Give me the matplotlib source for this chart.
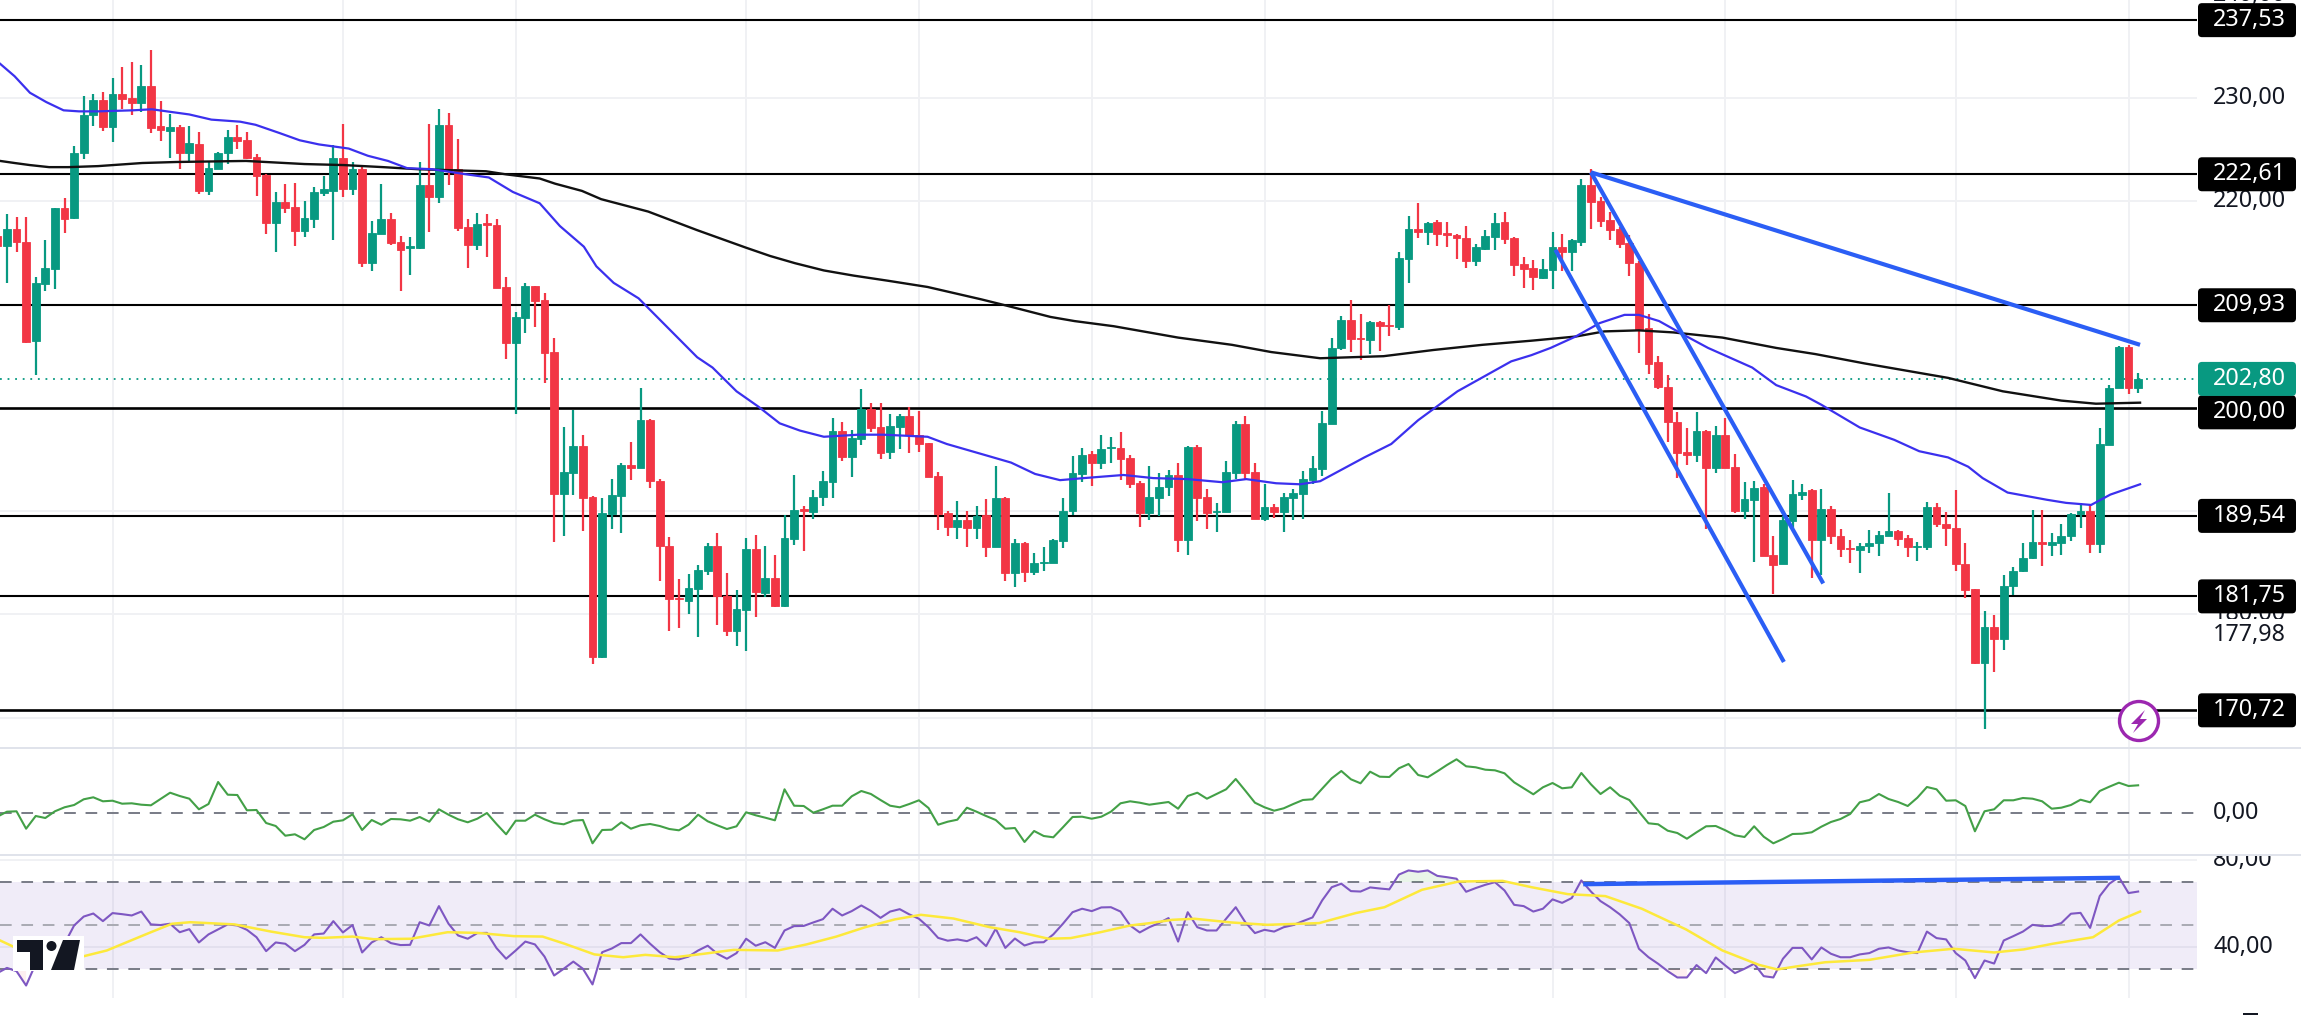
import numpy as np
import matplotlib
matplotlib.use("Agg")
import matplotlib.pyplot as plt
from matplotlib.patches import Rectangle, Polygon, Circle, FancyBboxPatch

plt.rcParams["font.family"] = ["Noto Sans", "DejaVu Sans"]

# candles (r = falling, g = rising)
directions = ("rgrrgggrgg" "grgrrgrrgr" "grgggrrrrg" "rrggggrgrg" "grrggrgrrr" "grrrggrrrg"
              "grrgggrgrr" "rrgggrrggr" "grggrgggrg" "grrggrrrrr" "grgrgrgrgg" "ggggrggrrr"
              "gggrgrrggg" "rrgrgggggg" "grrgrrggrg" "rrrrgggrrr" "rggrggrrrr" "rrrrrrrgrg"
              "rrggrrgggr" "grrrggggrr" "ggrrrrrgrg" "gggrggggrg" "ggrg")

highs = [217.5, 218.8, 218.5, 218.5, 212.7, 216.2, 219.3, 220.3, 225.3, 230.2,
         230.4, 230.6, 231.9, 233.0, 233.5, 233.2, 234.6, 229.7, 228.4, 227.4,
         227.3, 226.7, 223.8, 224.8, 226.9, 227.4, 226.7, 224.6, 222.6, 220.9,
         221.7, 221.8, 220.0, 221.4, 222.4, 225.4, 227.5, 223.8, 223.4, 218.1,
         221.7, 218.9, 216.6, 216.5, 223.8, 227.5, 228.9, 228.5, 226.0, 218.3,
         218.9, 218.8, 218.3, 212.7, 209.3, 212.1, 211.8, 211.1, 206.8, 198.1,
         199.8, 197.4, 191.5, 191.3, 193.1, 194.7, 196.7, 201.9, 198.9, 193.1,
         187.5, 183.4, 183.9, 184.8, 186.9, 187.9, 184.0, 182.4, 187.4, 187.7,
         186.6, 185.8, 189.6, 193.5, 190.5, 192.0, 193.9, 199.0, 198.6, 197.9,
         201.8, 200.5, 200.5, 199.4, 199.4, 200.1, 199.7, 196.6, 193.8, 190.0,
         191.0, 190.0, 190.5, 191.2, 194.4, 191.4, 187.3, 187.0, 185.9, 186.5,
         187.3, 191.3, 195.3, 196.1, 195.8, 197.4, 197.2, 197.7, 195.4, 192.9,
         194.4, 193.7, 194.0, 194.7, 196.3, 196.4, 192.1, 190.8, 194.9, 198.7,
         199.2, 194.7, 192.6, 190.7, 191.8, 192.1, 193.9, 195.3, 199.7, 206.8,
         208.9, 210.4, 209.1, 208.4, 208.4, 210.0, 215.1, 218.6, 219.8, 218.0,
         218.2, 218.0, 216.8, 217.6, 215.9, 217.2, 218.9, 219.0, 216.5, 214.6,
         214.3, 214.4, 217.0, 216.8, 216.3, 222.2, 223.1, 220.4, 219.0, 217.5,
         216.7, 214.2, 209.1, 205.0, 203.2, 199.6, 198.0, 199.6, 197.9, 198.2,
         199.0, 195.5, 192.8, 192.9, 192.6, 187.6, 189.5, 193.0, 192.6, 192.1,
         192.1, 190.5, 188.3, 187.2, 186.9, 188.2, 188.1, 191.8, 188.2, 187.7,
         187.0, 190.9, 190.8, 189.9, 192.0, 186.9, 182.5, 180.3, 179.9, 183.8,
         184.6, 186.9, 190.1, 190.1, 187.9, 188.8, 189.8, 190.8, 190.7, 198.0,
         202.2, 206.0, 206.1, 203.4]

body_tops = [216.6, 217.3, 217.3, 216.1, 212.1, 213.5, 219.3, 219.3, 224.7, 228.3,
             229.8, 229.8, 230.4, 230.4, 230.0, 231.2, 231.2, 227.3, 227.2, 227.2,
             225.6, 225.5, 223.2, 224.7, 226.2, 226.2, 225.9, 224.3, 222.5, 219.9,
             219.9, 219.4, 218.4, 220.9, 221.2, 224.2, 224.2, 223.1, 223.1, 216.9,
             218.3, 218.3, 216.1, 215.7, 221.6, 221.6, 227.4, 227.4, 223.1, 217.5,
             217.8, 217.9, 217.7, 211.7, 208.8, 211.8, 211.8, 210.4, 205.4, 193.8,
             196.3, 196.3, 191.4, 189.8, 191.6, 194.5, 194.5, 198.8, 198.8, 192.9,
             186.6, 181.6, 182.6, 184.3, 186.6, 186.6, 181.8, 180.5, 186.3, 186.3,
             183.5, 183.5, 187.4, 190.1, 190.2, 191.4, 192.9, 197.8, 197.8, 197.1,
             199.9, 199.9, 198.1, 198.2, 199.2, 199.2, 197.4, 196.6, 193.4, 189.8,
             189.1, 189.1, 189.5, 189.6, 191.3, 191.3, 186.9, 186.9, 185.0, 185.1,
             187.2, 190.0, 193.7, 195.4, 195.5, 196.0, 196.2, 196.1, 195.1, 192.7,
             191.4, 192.3, 193.5, 193.5, 196.2, 196.2, 191.4, 190.0, 193.8, 198.4,
             198.4, 193.8, 190.4, 190.4, 191.4, 191.8, 193.1, 194.2, 198.5, 205.8,
             208.5, 208.5, 206.8, 208.3, 208.3, 208.0, 214.5, 217.3, 217.3, 217.9,
             218.0, 216.9, 216.7, 216.4, 215.6, 216.6, 217.9, 218.0, 216.4, 213.9,
             213.5, 213.4, 215.6, 215.6, 216.2, 221.6, 221.6, 220.0, 218.2, 217.3,
             216.0, 214.0, 207.7, 204.4, 202.0, 198.6, 195.7, 197.8, 197.8, 197.4,
             197.4, 194.3, 191.2, 192.2, 192.3, 185.8, 189.1, 191.7, 191.9, 192.0,
             190.2, 190.2, 187.6, 186.4, 186.6, 186.9, 187.7, 188.1, 188.1, 187.4,
             186.6, 190.4, 190.4, 188.8, 188.4, 184.9, 182.5, 178.8, 178.8, 182.8,
             184.2, 185.5, 187.0, 187.0, 187.0, 187.6, 189.7, 190.0, 190.0, 196.5,
             201.9, 205.9, 205.9, 202.8]

body_bottoms = [215.7, 215.7, 216.1, 206.4, 206.5, 212.0, 213.4, 218.3, 218.4, 224.7,
                228.3, 227.2, 227.2, 229.9, 229.5, 229.5, 227.1, 226.9, 226.8, 224.7,
                224.7, 221.0, 221.0, 223.1, 224.7, 225.8, 224.2, 222.4, 217.9, 217.9,
                219.3, 217.1, 217.1, 218.3, 220.8, 221.0, 221.2, 221.2, 214.0, 214.0,
                216.8, 216.0, 215.3, 215.5, 215.5, 220.4, 220.4, 223.1, 217.4, 215.8,
                215.8, 217.7, 211.6, 206.3, 206.3, 208.7, 210.3, 205.3, 191.7, 191.7,
                193.7, 191.3, 175.9, 175.9, 189.7, 191.5, 194.2, 194.2, 192.9, 186.6,
                181.5, 181.5, 181.3, 182.5, 184.2, 181.8, 178.4, 178.4, 180.4, 182.2,
                182.1, 180.8, 180.8, 187.3, 190.0, 189.9, 191.4, 192.8, 195.2, 195.2,
                197.0, 198.0, 195.6, 195.7, 198.1, 197.4, 196.5, 193.3, 189.7, 188.5,
                188.5, 188.4, 188.4, 186.5, 186.5, 184.0, 184.0, 184.1, 184.1, 185.0,
                185.0, 187.1, 190.0, 193.6, 194.7, 194.7, 196.1, 195.0, 192.6, 189.8,
                189.8, 191.3, 192.3, 187.2, 187.2, 191.3, 189.8, 189.9, 189.9, 193.7,
                193.7, 189.2, 189.2, 189.9, 189.9, 191.3, 191.7, 193.0, 194.1, 198.4,
                205.8, 206.7, 206.7, 206.6, 207.9, 207.9, 207.8, 214.4, 217.0, 217.0,
                216.8, 216.7, 216.4, 214.2, 214.2, 215.4, 216.5, 216.3, 213.8, 213.4,
                212.7, 212.6, 213.3, 215.1, 215.1, 216.1, 219.9, 218.1, 217.2, 215.9,
                214.0, 207.6, 204.2, 202.0, 198.6, 195.6, 195.4, 195.4, 194.2, 194.2,
                194.2, 190.0, 190.0, 191.1, 185.7, 184.8, 184.9, 189.0, 191.6, 187.2,
                187.2, 187.6, 186.3, 186.3, 186.2, 186.6, 186.9, 187.6, 187.3, 186.5,
                186.5, 186.5, 188.8, 188.4, 184.9, 182.4, 175.3, 175.3, 177.6, 177.6,
                182.8, 184.2, 185.5, 186.8, 186.7, 186.9, 187.6, 189.7, 186.8, 186.8,
                196.4, 201.9, 201.9, 201.9]

lows = [215.4, 212.1, 215.1, 206.3, 203.2, 211.3, 211.5, 216.9, 218.3, 224.1,
        227.3, 226.8, 225.7, 228.9, 228.3, 228.6, 226.6, 225.8, 224.2, 223.1,
        223.9, 220.7, 220.6, 223.1, 223.6, 225.1, 224.1, 220.5, 216.8, 215.1,
        218.9, 215.7, 216.5, 217.4, 220.5, 216.2, 220.4, 220.6, 213.6, 213.2,
        216.8, 215.8, 211.3, 212.9, 215.4, 217.0, 219.8, 221.6, 217.1, 213.5,
        215.3, 214.6, 211.6, 204.7, 199.4, 207.2, 207.8, 202.4, 187.0, 187.6,
        191.6, 188.1, 175.2, 175.8, 188.3, 187.9, 193.0, 194.2, 192.2, 183.2,
        178.4, 178.7, 180.0, 177.8, 183.8, 179.0, 177.9, 176.9, 176.5, 179.8,
        181.7, 180.7, 180.7, 186.7, 186.1, 189.2, 190.5, 191.3, 194.9, 193.3,
        196.4, 197.7, 195.0, 195.0, 196.0, 195.6, 195.7, 193.3, 188.2, 187.6,
        187.3, 186.5, 187.3, 185.6, 186.5, 183.2, 182.7, 183.1, 183.8, 184.2,
        185.0, 186.4, 189.6, 192.8, 192.4, 194.1, 194.7, 193.0, 192.2, 188.5,
        189.1, 189.5, 191.5, 186.0, 185.8, 189.0, 188.3, 188.0, 189.9, 193.1,
        193.1, 189.2, 189.0, 189.3, 188.0, 189.1, 189.2, 192.6, 193.4, 198.4,
        205.6, 205.4, 204.6, 205.2, 205.5, 207.0, 207.5, 212.1, 216.4, 215.8,
        215.7, 215.6, 214.4, 213.5, 213.7, 215.3, 215.3, 215.9, 212.8, 211.6,
        211.4, 212.5, 211.5, 213.2, 213.2, 215.7, 217.3, 217.5, 216.2, 215.5,
        212.8, 205.3, 203.3, 201.8, 196.7, 193.2, 194.5, 194.8, 188.3, 193.7,
        194.2, 189.8, 189.2, 185.1, 185.7, 182.0, 184.9, 188.4, 191.1, 183.5,
        183.8, 186.8, 185.6, 185.0, 184.0, 185.9, 185.7, 187.6, 186.6, 185.6,
        185.2, 186.2, 188.5, 186.6, 184.2, 181.6, 175.2, 168.9, 174.4, 176.6,
        181.9, 184.1, 185.4, 184.7, 185.7, 185.8, 187.1, 188.4, 185.9, 185.9,
        196.4, 201.9, 201.3, 201.4]

# moving averages, (candle number, price)
ma_short_x = [0.3, 1.8, 3.4, 5.1, 6.9, 8.5, 10.5, 14.1, 16.1, 20.0, 22.3, 25.3, 26.9, 29.4, 31.5,
              33.5, 36.6, 38.6, 40.7, 42.7, 45.3, 48.9, 51.2, 53.7, 56.5, 58.6, 61.1, 62.4, 64.2,
              66.8, 72.9, 74.5, 77.0, 79.3, 81.5, 83.6, 86.1, 89.7, 92.3, 96.9, 98.9, 103.0, 105.6,
              108.1, 110.7, 113.2, 117.3, 120.4, 124.0, 127.6, 130.1, 133.2, 135.7, 137.8, 142.4,
              145.2, 148.0, 152.1, 157.7, 159.8, 161.8, 164.4, 166.9, 169.5, 171.0, 173.1, 175.6,
              178.2, 182.8, 185.3, 188.4, 190.0, 194.0, 197.6, 200.2, 203.2, 205.3, 206.8, 209.4,
              213.5, 215.5, 218.1, 220.1, 223.2]
ma_short = [233.3, 232.1, 230.5, 229.6, 228.8, 228.7, 228.7, 228.8, 228.9, 228.4, 227.9, 227.7, 227.4,
            226.6, 225.9, 225.5, 225.1, 224.4, 223.9, 223.2, 223.1, 222.6, 222.3, 220.9, 219.8, 217.6,
            215.6, 213.7, 212.1, 210.6, 204.9, 203.9, 201.6, 200.1, 198.5, 197.8, 197.2, 197.4, 197.4,
            197.2, 196.5, 195.4, 194.7, 193.6, 193.0, 193.2, 193.5, 193.2, 193.1, 192.8, 193.1, 192.7,
            192.6, 192.9, 195.2, 196.5, 198.8, 201.6, 204.5, 205.1, 205.8, 206.9, 208.2, 209.0, 209.0,
            208.4, 207.1, 205.8, 203.9, 202.2, 201.1, 200.3, 198.1, 196.9, 195.8, 195.2, 194.3, 193.2,
            191.8, 191.1, 190.8, 190.6, 191.6, 192.6]

ma_long_x = [0.3, 1.8, 3.4, 5.4, 7.4, 10.5, 15.1, 18.7, 25.9, 32.0, 36.1, 40.2, 43.8, 50.9, 53.0, 56.5,
             58.1, 60.9, 62.9, 67.8, 72.9, 78.0, 80.5, 83.1, 86.1, 89.2, 92.8, 96.9, 102.5, 105.1, 109.7,
             112.2, 116.3, 123.0, 128.6, 132.7, 137.8, 144.4, 149.6, 154.7, 159.8, 164.4, 167.4, 171.0,
             174.6, 179.7, 185.3, 189.4, 194.5, 203.2, 208.9, 215.0, 218.6, 223.2]
ma_long = [223.9, 223.7, 223.5, 223.3, 223.3, 223.4, 223.7, 223.8, 223.9, 223.6, 223.5, 223.3, 223.1,
           222.9, 222.6, 222.2, 221.7, 221.0, 220.2, 219.0, 217.2, 215.5, 214.7, 214.0, 213.3, 212.8,
           212.3, 211.7, 210.5, 209.9, 208.8, 208.4, 207.9, 206.8, 206.1, 205.4, 204.8, 205.0, 205.6,
           206.1, 206.5, 206.9, 207.4, 207.5, 207.3, 206.8, 205.8, 205.2, 204.3, 202.9, 201.6, 200.7,
           200.4, 200.5]

levels = [237.53, 222.61, 209.93, 200.00, 189.54, 181.75, 170.72]
last_price = 202.80
price_grid = [240, 230, 220, 210, 190, 180, 170]
price_ticks = [240, 230, 220, 180]
price_extra_tick = 177.98
grid_candles = [12, 36, 54, 78, 96, 114, 132, 162, 180, 204, 222]

# trendlines on the price pane, (candle, price) pairs
trend_a = ([166.0, 223.2], [222.8, 206.1])
trend_b = ([166.0, 190.2], [222.8, 183.0])
trend_c = ([162.3, 186.1], [215.3, 175.4])

# momentum pane (green line), one value per candle
momentum = [-3.7, 1.3, 1.7, -15.7, -3.0, -5.0, 1.7, 5.7, 8.0, 13.7,
            15.7, 11.7, 12.3, 9.3, 9.7, 8.3, 7.7, 14.0, 20.3, 17.0,
            14.3, 3.7, 9.0, 31.0, 18.3, 18.0, 2.7, 3.0, -10.0, -13.0,
            -22.7, -21.3, -26.3, -17.0, -14.0, -8.7, -7.3, -1.3, -17.0, -7.0,
            -11.7, -6.0, -6.3, -7.7, -4.0, -8.7, 3.7, -1.7, -6.3, -9.3,
            -5.7, 0.0, -11.0, -21.3, -7.7, -7.7, -1.7, -6.3, -10.0, -11.3,
            -7.7, -7.0, -30.3, -17.0, -16.7, -9.3, -15.7, -12.3, -11.0, -13.0,
            -16.0, -17.3, -11.7, -1.7, -8.3, -12.3, -16.0, -13.3, 0.7, -2.3,
            -4.7, -7.3, 23.7, 7.3, 7.0, 0.3, 3.7, 7.3, 7.3, 16.7,
            22.0, 19.0, 13.0, 7.3, 5.7, 9.0, 12.7, 5.0, -11.7, -8.7,
            -6.7, 5.3, 1.3, -3.0, -7.0, -15.7, -15.0, -29.0, -18.0, -23.0,
            -24.3, -14.3, -4.0, -3.7, -5.7, -3.7, 1.3, 9.7, 11.7, 10.3, 8.3,
            9.7, 11.0, 4.3, 17.0, 20.3, 14.3, 19.0, 23.7, 34.0, 22.3,
            10.3, 5.7, 2.3, 4.7, 9.0, 13.0, 13.7, 24.3, 34.7, 42.0,
            33.7, 29.7, 41.3, 36.3, 36.0, 44.7, 49.0, 38.0, 35.7, 41.7,
            48.0, 53.7, 46.7, 45.7, 43.3, 42.7, 39.7, 30.7, 24.7, 18.7,
            25.7, 30.0, 24.7, 25.7, 40.0, 28.7, 19.0, 25.7, 17.3, 13.0,
            1.3, -10.3, -11.3, -17.7, -20.0, -25.7, -19.3, -13.3, -13.0, -17.3,
            -22.3, -24.0, -13.3, -23.7, -30.3, -26.0, -21.0, -20.7, -19.3, -13.7,
            -9.0, -6.0, -1.0, 10.7, 13.0, 19.0, 14.0, 11.0, 7.0, 15.3,
            26.0, 23.7, 12.3, 12.7, 7.0, -18.3, 1.7, 3.7, 12.7, 12.7,
            15.0, 14.3, 11.7, 4.3, 5.3, 8.0, 13.3, 10.7, 22.0, 26.3,
            30.3, 27.0, 27.7]

# RSI pane, one value per candle
rsi = [28.1, 30.5, 29.0, 22.4, 32.4, 31.6, 35.4, 41.6, 50.0, 54.1,
       55.5, 52.0, 55.7, 55.2, 54.6, 56.4, 50.5, 50.2, 50.8, 46.9,
       48.3, 42.2, 45.9, 48.2, 50.5, 50.0, 48.0, 44.6, 38.2, 42.2,
       41.6, 38.2, 41.1, 45.9, 46.3, 52.0, 46.8, 50.2, 37.6, 42.2,
       44.6, 41.9, 41.0, 41.1, 51.5, 50.0, 58.9, 50.8, 45.4, 43.9,
       46.5, 46.6, 39.6, 34.7, 38.5, 42.6, 41.3, 35.7, 27.0, 30.1,
       33.4, 30.1, 22.9, 37.7, 39.4, 41.9, 41.9, 45.9, 41.6, 37.7,
       34.8, 34.4, 35.7, 38.5, 40.7, 37.0, 34.7, 37.3, 43.9, 40.7,
       42.3, 39.7, 47.7, 49.7, 49.8, 51.4, 52.9, 57.7, 54.6, 56.6,
       59.2, 56.7, 53.5, 56.4, 57.5, 55.1, 53.1, 49.2, 44.3, 43.0,
       43.6, 42.8, 44.6, 40.5, 48.5, 39.7, 44.0, 40.8, 42.2, 42.3,
       45.9, 50.8, 56.1, 57.7, 56.6, 58.3, 58.4, 56.4, 50.0, 46.8, 49.2,
       51.1, 53.4, 42.6, 56.1, 49.2, 47.7, 47.7, 53.1, 58.4, 51.5,
       46.5, 48.0, 47.2, 49.2, 50.2, 52.0, 53.7, 61.5, 67.6, 69.2,
       65.8, 65.6, 67.5, 67.0, 66.6, 73.4, 75.3, 74.7, 75.3, 72.8,
       72.2, 71.5, 65.5, 67.2, 68.7, 69.9, 66.1, 59.5, 58.9, 56.4,
       57.7, 62.0, 60.4, 62.6, 70.7, 65.6, 61.2, 58.4, 55.1, 51.1,
       39.3, 35.4, 32.4, 29.0, 26.1, 26.1, 31.8, 28.1, 35.3, 31.6,
       28.1, 30.1, 32.4, 26.7, 26.1, 34.7, 39.7, 39.7, 34.4, 39.9,
       37.0, 35.4, 35.4, 36.7, 37.3, 39.3, 39.9, 38.5, 37.7, 37.3,
       47.2, 44.2, 43.6, 37.3, 33.9, 25.8, 33.9, 32.5, 43.1, 45.1,
       47.2, 50.3, 49.7, 49.8, 51.1, 55.4, 55.8, 48.9, 63.5, 69.2,
       72.2, 64.9, 65.6]

rsi_ma_x = [0.3, 1.8, 8.3, 11.4, 16.0, 18.2, 20.1, 24.7, 28.5, 32.0, 33.9, 37.0, 39.2, 43.1, 46.9, 50.0,
            53.8, 56.8, 59.1, 62.2, 65.2, 67.5, 70.6, 73.6, 76.7, 81.3, 84.3, 87.4, 90.4, 93.5, 96.2, 99.6,
            103.4, 106.5, 109.5, 111.8, 114.9, 118.0, 120.1, 122.4, 124.7, 128.5, 132.3, 137.7, 141.5, 144.5,
            148.4, 152.2, 156.8, 159.8, 163.6, 167.5, 171.3, 175.9, 179.7, 183.5, 185.4, 187.3, 190.4, 195.0,
            199.6, 203.8, 208.0, 211.1, 214.1, 218.3, 221.0, 223.2]
rsi_ma = [43.1, 40.0, 35.1, 38.5, 46.9, 50.8, 51.5, 50.5, 47.2, 44.6, 44.3, 44.9, 43.7, 43.9, 46.9, 46.6,
          45.1, 44.9, 41.6, 36.7, 35.4, 36.5, 35.4, 37.0, 38.8, 38.5, 41.3, 44.9, 49.2, 52.8, 54.9, 53.2,
          49.2, 46.9, 43.9, 44.2, 46.9, 50.0, 51.1, 52.6, 53.1, 51.4, 50.3, 51.1, 55.7, 58.4, 66.4, 70.2,
          70.5, 67.6, 64.4, 63.5, 57.7, 48.2, 38.5, 31.9, 29.8, 31.1, 33.1, 34.2, 37.6, 39.3, 37.6, 39.0,
          41.6, 44.6, 52.3, 56.4]
rsi_trend = ([165.2, 221.1], [69.0, 71.9])

UP = "#089981"
DOWN = "#f23645"
GRID = "#f0f1f4"
BORDER = "#e0e3eb"
DASH = "#787b86"
TREND = "#2b5ef5"
TEXT = "#131722"

W, H = 2301, 1015
RIGHT = 2196.5
DASHED = (0, (6, 5))
fig = plt.figure(figsize=(W / 100, H / 100), dpi=100, facecolor="white")


def pane(top, bottom):
    ax = fig.add_axes([0, 1 - bottom / H, RIGHT / W, (bottom - top) / H])
    ax.set_axis_off()
    ax.set_xlim(0.28, 229.08)
    return ax


ax = pane(0, 747.7)
ax.set_ylim(167.1, 239.48)
ax_mom = pane(747.7, 855)
ax_mom.set_ylim(-42, 65.3)
ax_rsi = pane(855, 997.7)
ax_rsi.set_ylim(16.8, 82.4)

for a in (ax, ax_mom, ax_rsi):
    for c in grid_candles:
        a.axvline(c, color=GRID, lw=1.4, zorder=0)

# price pane
for t in price_grid:
    ax.axhline(t, color=GRID, lw=1.4, zorder=0)
for lv in levels:
    ax.axhline(lv, color="#000000", lw=1.9 if lv in (200.00, 170.72) else 1.5, zorder=1)
ax.axhline(last_price, color=UP, lw=1.3, ls=(0, (1, 3.2)), zorder=1)

xs = np.arange(len(highs))
cols = [UP if d == "g" else DOWN for d in directions]
ax.vlines(xs, lows, highs, colors=cols, lw=1.6, zorder=2)
ax.bar(xs, np.array(body_tops) - np.array(body_bottoms), bottom=body_bottoms, width=0.8,
       color=cols, edgecolor=cols, linewidth=0.6, zorder=3)

ax.plot(ma_long_x, ma_long, color="#111111", lw=1.7, zorder=4)
ax.plot(ma_short_x, ma_short, color="#3b30ee", lw=1.6, zorder=4)
for tx, ty in (trend_a, trend_b, trend_c):
    ax.plot(tx, ty, color=TREND, lw=3, solid_capstyle="butt", zorder=5)

# momentum pane
ax_mom.axhline(0, color=DASH, lw=1.4, ls=DASHED, zorder=1)
ax_mom.plot(np.arange(len(momentum)), momentum, color="#43a047", lw=1.5, zorder=3)

# RSI pane
ax_rsi.axhspan(30, 70, color="#7e57c2", alpha=0.11, lw=0, zorder=1)
ax_rsi.axhline(80, color=GRID, lw=1.4, zorder=1)
ax_rsi.axhline(40, color="#e3e0ee", lw=1.4, zorder=1)
ax_rsi.axhline(70, color=DASH, lw=1.4, ls=DASHED, zorder=2)
ax_rsi.axhline(50, color="#a9aab3", lw=1.4, ls=DASHED, zorder=2)
ax_rsi.axhline(30, color=DASH, lw=1.4, ls=DASHED, zorder=2)
rsi_x = np.arange(len(rsi))
rsi_arr = np.array(rsi)
ax_rsi.fill_between(rsi_x, 70, rsi_arr, where=rsi_arr > 70, color="#4caf50", alpha=0.12, lw=0, zorder=2)
ax_rsi.fill_between(rsi_x, 30, rsi_arr, where=rsi_arr < 30, color="#f23645", alpha=0.08, lw=0, zorder=2)
ax_rsi.plot(rsi_x, rsi, color="#7e57c2", lw=1.5, zorder=3)
ax_rsi.plot(rsi_ma_x, rsi_ma, color="#fde93b", lw=1.8, zorder=4)
ax_rsi.plot(rsi_trend[0], rsi_trend[1], color=TREND, lw=3.2, solid_capstyle="butt", zorder=5)

# overlay in picture pixels: separators, labels, icons
ov = fig.add_axes([0, 0, 1, 1], zorder=10)
ov.set_xlim(0, W)
ov.set_ylim(H, 0)
ov.set_axis_off()
ov.patch.set_alpha(0)


def px_y(a, value):
    return H - a.transData.transform((1, value))[1]


TEXT_X = 2213
FS = 16.8


def tick(a, value, text, zorder=2):
    ov.text(TEXT_X, px_y(a, value), text, color=TEXT, fontsize=FS, ha="left", va="center", zorder=zorder)


def tag(value, text, bg="#000000", dy=0):
    y = px_y(ax, value) + dy
    ov.add_patch(FancyBboxPatch((2201, y - 14), 92, 28, boxstyle="round,pad=3,rounding_size=4",
                                fc=bg, ec="none", zorder=3))
    ov.text(TEXT_X, y, text, color="white", fontsize=FS, ha="left", va="center", zorder=4)


for t in price_ticks:
    tick(ax, t, f"{t:.2f}".replace(".", ","))
# 177,98 sits on a white plate that hides the lower part of 180,00
ov.add_patch(Rectangle((2198, 619), 98, 32, fc="white", ec="none", zorder=2.5))
tick(ax, price_extra_tick, f"{price_extra_tick:.2f}".replace(".", ","), zorder=2.6)

for lv in levels:
    if lv == 200.00:
        tag(lv, "200,00", dy=4.5)
    else:
        tag(lv, f"{lv:.2f}".replace(".", ","))
tag(last_price, "202,80", bg=UP)
tick(ax_mom, 0, "0,00")
tick(ax_rsi, 40, "40,00")
tick(ax_rsi, 80, "80,00")
# top of 80,00 is cut by the pane border
ov.add_patch(Rectangle((2198, 846), 103, 10, fc="white", ec="none", zorder=5))
for y in (747.7, 855):
    ov.add_patch(Rectangle((0, y - 1), W, 2, color=BORDER, lw=0, zorder=5.5))

# bolt badge
ov.add_patch(Circle((2139, 721), 19.5, fc="white", ec="#9c27b0", lw=2.4, zorder=6))
ov.add_patch(Polygon([(2145, 710), (2131, 724), (2138, 724), (2133, 733), (2147, 719), (2140, 719)],
                     fc="#9c27b0", ec="none", zorder=7))

# chart logo
ov.add_patch(Rectangle((13, 936), 71, 35, fc="white", ec="none", zorder=6))
ov.add_patch(Polygon([(17, 940), (42.5, 940), (42.5, 970), (29.5, 970), (29.5, 951.5), (17, 951.5)],
                     fc=TEXT, ec="none", zorder=7))
ov.add_patch(Circle((51.5, 946), 5, fc=TEXT, ec="none", zorder=7))
ov.add_patch(Polygon([(63, 940), (80, 940), (74, 970), (51, 970)], fc=TEXT, ec="none", zorder=7))
ov.add_patch(Rectangle((2243, 1013), 15, 2, fc=TEXT, ec="none", zorder=6))

fig.savefig("out.png", dpi=100)
